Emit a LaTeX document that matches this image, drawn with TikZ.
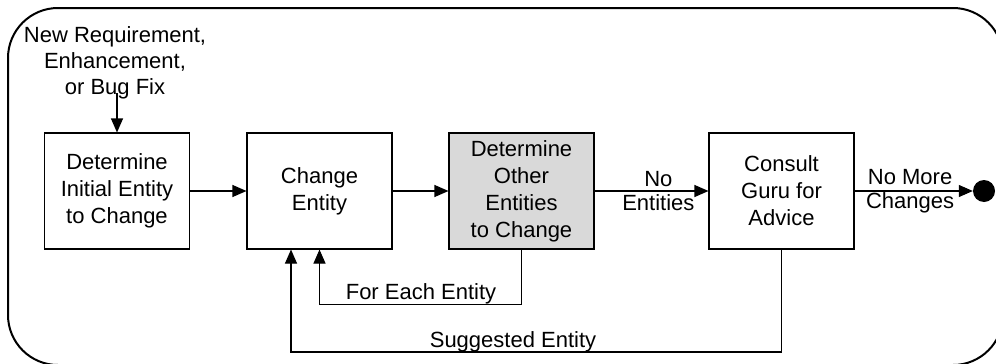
\documentclass[tikz,border=0pt]{standalone}
\usepackage{fontspec}
\setmainfont{Liberation Sans}
\usetikzlibrary{arrows.meta}
\definecolor{boxgray}{RGB}{217,217,217}
\begin{document}
\begin{tikzpicture}[x=1pt,y=-1pt,
  every node/.style={font=\fontsize{22}{27}\selectfont},
  stepbox/.style={draw, line width=1.1pt, minimum width=145pt, minimum height=116pt,
                  inner sep=0pt, align=center},
  flow/.style={line width=1.1pt, -{Triangle[length=14pt,width=12pt]}},
  lbl/.style={inner sep=0pt, align=center, font=\fontsize{22}{24}\selectfont}]
\useasboundingbox (0,0) rectangle (996,364);
\clip (0,0) rectangle (996,364);

% enclosing frame
\draw[line width=2pt, rounded corners=50pt] (8,8) rectangle (1003,365);

% process steps
\node[stepbox] (init)   at (117,191)   {Determine\\Initial Entity\\to Change};
\node[stepbox] (change) at (319.5,191) {Change\\Entity};
\node[stepbox, fill=boxgray] (others) at (521.5,191) {Determine\\Other\\Entities\\to Change};
\node[stepbox] (guru)   at (781.5,191) {Consult\\Guru for\\Advice};
\node[circle, fill=black, minimum size=22pt, inner sep=0pt] (done) at (984,191) {};

% trigger
\node[lbl, font=\fontsize{22}{26}\selectfont] (src) at (115,63) {New Requirement,\\Enhancement,\\or Bug Fix};
\coordinate (srcfoot) at (117,93);
\draw[flow] (srcfoot) -- (init.north);

% main flow
\draw[flow] (init.east) -- (change.west);
\draw[flow] (change.east) -- (others.west);
\draw[flow] (others.east) -- node[lbl, pos=0.56] (nolbl) {No\\Entities} (guru.west);
\draw[flow] (guru.east) -- node[lbl, pos=0.47] (endlbl) {No More\\Changes} (done.west);

% feedback loops
\draw[flow] (others.south) -- ++(0,55) -| (change.south);
\node[anchor=base, inner sep=0pt] (each) at (421,299) {For Each Entity};
\coordinate (suggestturn) at (781.5,352);
\draw[flow] (guru.south) -- (suggestturn) -| ([xshift=-28.5pt]change.south);
\node[anchor=base, inner sep=0pt] (sugg) at (513,347) {Suggested Entity};
\end{tikzpicture}
\end{document}
